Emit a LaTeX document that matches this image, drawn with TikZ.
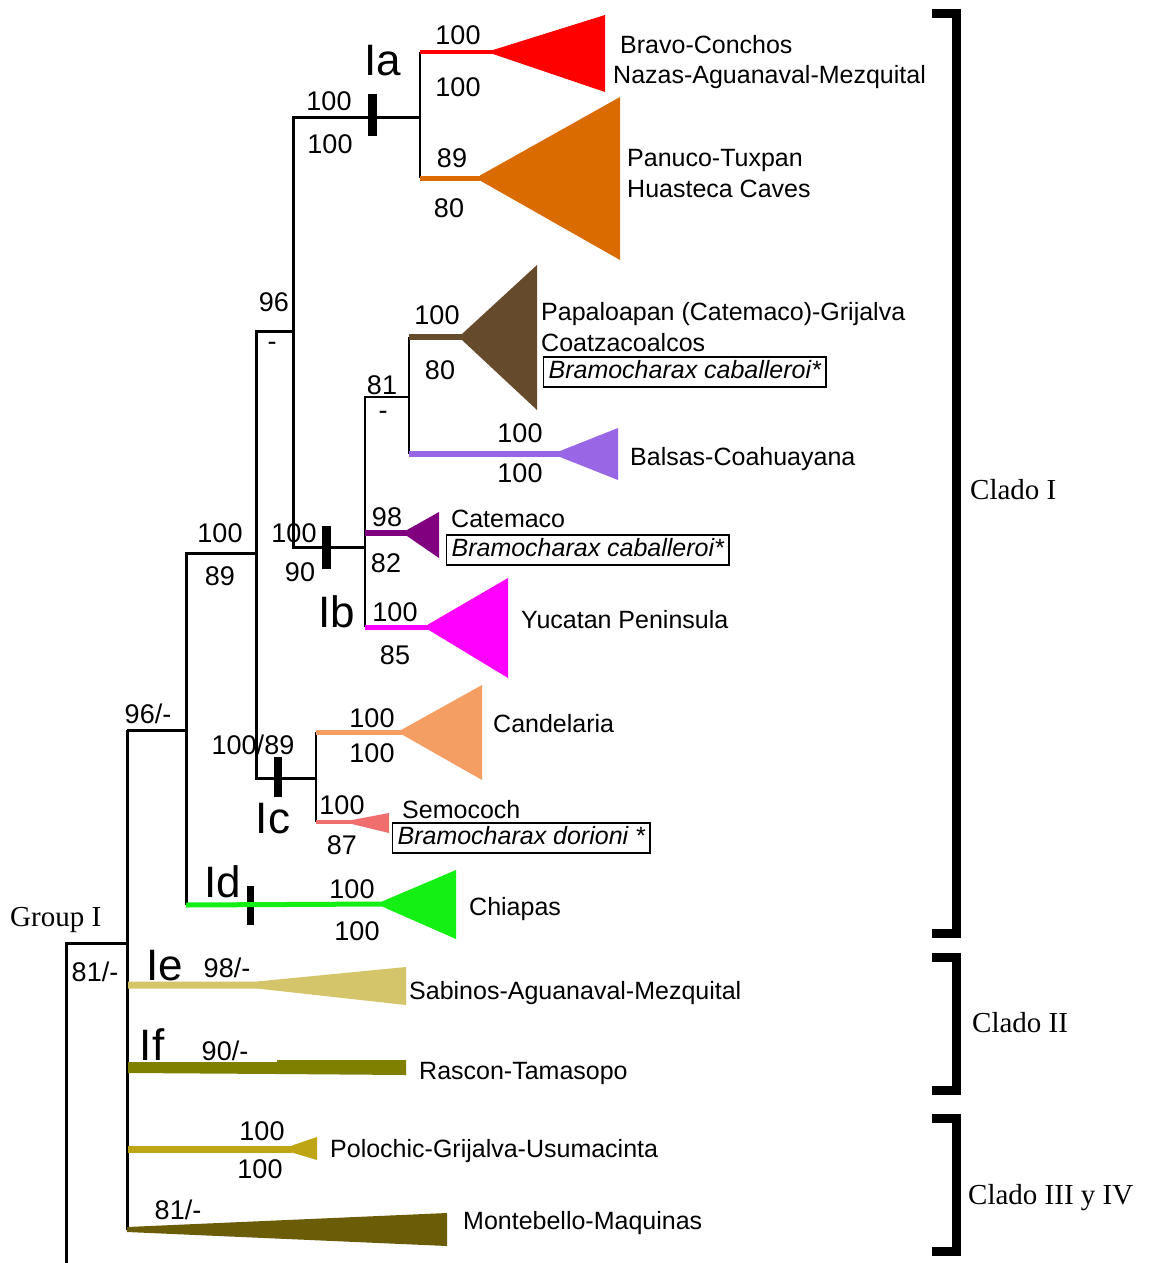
\documentclass[tikz,border=0pt]{standalone}
\usepackage{fontspec}
\newfontfamily\sansf{Liberation Sans}
\newfontfamily\seriff{Liberation Serif}
\definecolor{cRed}{RGB}{255,0,0}
\definecolor{cOrange}{RGB}{217,107,0}
\definecolor{cBrown}{RGB}{101,74,44}
\definecolor{cLav}{RGB}{153,102,230}
\definecolor{cPurp}{RGB}{128,0,128}
\definecolor{cMag}{RGB}{255,0,255}
\definecolor{cSalmon}{RGB}{244,158,100}
\definecolor{cCoral}{RGB}{240,110,110}
\definecolor{cGreen}{RGB}{20,240,20}
\definecolor{cKhaki}{RGB}{212,196,106}
\definecolor{cOlive}{RGB}{128,128,0}
\definecolor{cGold}{RGB}{190,165,20}
\definecolor{cDark}{RGB}{107,93,8}
\begin{document}
\begin{tikzpicture}[x=1pt,y=-1pt,
  br/.style={line width=3pt,line join=miter},
  brt/.style={line width=2.2pt,line join=miter},
  tickmark/.style={line width=9pt},
  num/.style={font=\sansf\fontsize{27}{27}\selectfont,inner sep=0pt,text height=19.3pt,text depth=0pt},
  cl/.style={font=\sansf\fontsize{44}{44}\selectfont,inner sep=0pt,text height=31.5pt,text depth=0pt},
  tname/.style={font=\sansf\fontsize{25}{25}\selectfont,inner sep=0pt,anchor=west,text height=18pt,text depth=0pt},
  bx/.style={draw,line width=1.2pt,inner xsep=5pt,inner ysep=3.5pt,anchor=west,text height=18pt,text depth=5pt,font=\sansf\itshape\fontsize{25}{25}\selectfont},
  ser/.style={font=\seriff\fontsize{29}{29}\selectfont,inner sep=0pt,anchor=west,text height=19pt,text depth=0pt},
  bracket/.style={line width=9pt,line join=miter}
]
\useasboundingbox (0,0) rectangle (1150,1263);
\fill[white] (0,0) rectangle (1150,1263);

% ---------- internal coordinates ----------
\coordinate (R0) at (66,1263);
\coordinate (R1) at (66,943);
\coordinate (M) at (127,943);
\coordinate (Mtop) at (127,730);
\coordinate (Mbot) at (127,1230);
\coordinate (A0) at (186,730);
\coordinate (A1) at (186,553);
\coordinate (A2) at (186,905);
\coordinate (B) at (256,553);
\coordinate (B1) at (256,331);
\coordinate (B2) at (256,778);
\coordinate (C) at (293,331);
\coordinate (C1) at (293,117);
\coordinate (C2) at (293,547);
\coordinate (D) at (420,117);
\coordinate (D1) at (420,52);
\coordinate (D2) at (420,178);
\coordinate (E) at (365,547);
\coordinate (E1) at (365,397);
\coordinate (E2) at (365,627);
\coordinate (E3) at (365,533);
\coordinate (F) at (409,397);
\coordinate (F1) at (409,337);
\coordinate (F2) at (409,454);
\coordinate (G) at (316,778);
\coordinate (G1) at (316,732);
\coordinate (G2) at (316,822);

% ---------- black tree ----------
\draw[br] (R0) -- (R1) -- (M);
\draw[br] (Mtop) -- (Mbot);
\draw[br] (Mtop) -- (A0);
\draw[br] (A2) -- (A1) -- (B);
\draw[br] (G) -- (B2) -- (B1) -- (C);
\draw[br] (D) -- (C1) -- (C2) -- (E);
\draw[brt] (D1) -- (D2);
\draw[brt] (E2) -- (E1) -- (F);
\draw[brt] (F1) -- (F2);
\draw[brt] (G1) -- (G2);

% ticks
\coordinate (t1a) at (372,94);  \coordinate (t1b) at (372,136);
\coordinate (t2a) at (326,526); \coordinate (t2b) at (326,569);
\coordinate (t3a) at (278,757); \coordinate (t3b) at (278,797);
\coordinate (t4a) at (250,886); \coordinate (t4b) at (250,925);
\draw[tickmark] (t1a) -- (t1b);
\draw[tickmark] (t2a) -- (t2b);
\draw[tickmark,line width=8pt] (t3a) -- (t3b);
\draw[tickmark,line width=7pt] (t4a) -- (t4b);

% ---------- collapsed clades ----------
% red
\coordinate (redA) at (493,52);
\draw[cRed,line width=4pt] (D1) -- (redA);
\fill[cRed] (493,50) -- (605,15) -- (605,92) -- (493,54) -- cycle;
% orange
\coordinate (orA) at (480,178);
\draw[cOrange,line width=5pt] (D2) -- (orA);
\fill[cOrange] (480,175.5) -- (620,97) -- (620,260) -- (480,180.5) -- cycle;
% brown
\coordinate (brA) at (462,337);
\draw[cBrown,line width=6pt] (F1) -- (brA);
\fill[cBrown] (462,334) -- (537,265) -- (537,410) -- (462,340) -- cycle;
% lavender
\coordinate (lvA) at (560,454);
\draw[cLav,line width=6pt] (F2) -- (lvA);
\fill[cLav] (560,451) -- (618,428) -- (618,480) -- (560,457) -- cycle;
% purple
\coordinate (puA) at (407,533);
\draw[cPurp,line width=6pt] (E3) -- (puA);
\fill[cPurp] (407,530) -- (439,512) -- (439,558) -- (407,536) -- cycle;
% magenta
\coordinate (mgA) at (428,627);
\draw[cMag,line width=5pt] (E2) -- (mgA);
\fill[cMag] (428,624.5) -- (508,578) -- (508,678) -- (428,629.5) -- cycle;
% salmon
\coordinate (saA) at (402,732);
\draw[cSalmon,line width=5pt] (G1) -- (saA);
\fill[cSalmon] (402,729.5) -- (482,685) -- (482,780) -- (402,734.5) -- cycle;
% coral
\coordinate (coA) at (352,822);
\draw[cCoral,line width=4pt] (G2) -- (coA);
\fill[cCoral] (352,820) -- (389,813) -- (389,833) -- (352,824) -- cycle;
% green
\coordinate (grA) at (382,904);
\draw[cGreen,line width=5pt] (A2) -- (grA);
\fill[cGreen] (382,901.5) -- (456,870) -- (456,939) -- (382,906.5) -- cycle;
% khaki (Sabinos)
\fill[cKhaki] (128,981.5) -- (257,981.5) -- (406,967) -- (406,1005) -- (257,988.5) -- (128,988.5) -- cycle;
% olive (Rascon)
\fill[cOlive] (128,1062) -- (277,1062) -- (277,1060) -- (406,1060) -- (406,1075) -- (277,1074) -- (128,1073) -- cycle;
% gold (Polochic)
\coordinate (goS) at (128,1149);
\coordinate (goA) at (292,1149);
\draw[cGold,line width=7pt] (goS) -- (goA);
\fill[cGold] (292,1145.5) -- (317,1137) -- (317,1160) -- (292,1152.5) -- cycle;
% dark olive (Montebello)
\fill[cDark] (127,1227) -- (447,1213) -- (447,1246) -- (127,1232) -- cycle;

% ---------- support values ----------
\node[num] (n1) at (458,35) {100};
\node[num] (n2) at (458,87) {100};
\node[cl]  (la) at (383,60) {Ia};
\node[num] (n3) at (329,101) {100};
\node[num] (n4) at (330,144) {100};
\node[num] (n5) at (452,158) {89};
\node[num] (n6) at (449,208) {80};
\node[num] (n7) at (274,302) {96};
\node[num] (n8) at (272,341) {-};
\node[num] (n9) at (437,315) {100};
\node[num] (n10) at (440,370) {80};
\node[num] (n11) at (382,385) {81};
\node[num] (n12) at (383,410) {-};
\node[num] (n13) at (520,433) {100};
\node[num] (n14) at (520,473) {100};
\node[num] (n15) at (220,533) {100};
\node[num] (n16) at (220,576) {89};
\node[num] (n17) at (294,533) {100};
\node[num] (n18) at (300,572) {90};
\node[num] (n19) at (387,517) {98};
\node[num] (n20) at (386,563) {82};
\node[cl]  (lb) at (337,612) {Ib};
\node[num] (n21) at (395,612) {100};
\node[num] (n22) at (395,655) {85};
\node[num] (n23) at (148,714) {96/-};
\node[num] (n24) at (372,718) {100};
\node[num] (n25) at (372,753) {100};
\node[num] (n26) at (253,745) {100/89};
\node[cl]  (lc) at (273,818) {Ic};
\node[num] (n27) at (342,805) {100};
\node[num] (n28) at (342,845) {87};
\node[cl]  (ld) at (223,882) {Id};
\node[num] (n29) at (352,889) {100};
\node[num] (n30) at (357,931) {100};
\node[num] (n31) at (95,972) {81/-};
\node[cl]  (le) at (165,965) {Ie};
\node[num] (n32) at (227,968) {98/-};
\node[cl]  (lf) at (152,1045) {If};
\node[num] (n33) at (225,1051) {90/-};
\node[num] (n34) at (262,1131) {100};
\node[num] (n35) at (260,1169) {100};
\node[num] (n36) at (178,1210) {81/-};
\node[ser] (grp) at (10,917) {Group I};

% ---------- taxon names ----------
\node[tname] (t1) at (620,44) {Bravo-Conchos};
\node[tname] (t2) at (613,74) {Nazas-Aguanaval-Mezquital};
\node[tname] (t3) at (627,157) {Panuco-Tuxpan};
\node[tname] (t4) at (627,188) {Huasteca Caves};
\node[tname] (t5) at (541,311) {Papaloapan (Catemaco)-Grijalva};
\node[tname] (t6) at (541,342) {Coatzacoalcos};
\node[bx] (b1) at (543,372) {Bramocharax caballeroi*};
\node[tname] (t7) at (630,456) {Balsas-Coahuayana};
\node[tname] (t8) at (451,518) {Catemaco};
\node[bx] (b2) at (446,550) {Bramocharax caballeroi*};
\node[tname] (t9) at (521,619) {Yucatan Peninsula};
\node[tname] (t10) at (493,723) {Candelaria};
\node[tname] (t11) at (402,809) {Semococh};
\node[bx] (b3) at (392,838) {Bramocharax dorioni *};
\node[tname] (t12) at (469,906) {Chiapas};
\node[tname] (t13) at (409,990) {Sabinos-Aguanaval-Mezquital};
\node[tname] (t14) at (419,1070) {Rascon-Tamasopo};
\node[tname] (t15) at (330,1148) {Polochic-Grijalva-Usumacinta};
\node[tname] (t16) at (463,1220) {Montebello-Maquinas};

% ---------- brackets ----------
\coordinate (k1a) at (932,13.5); \coordinate (k1b) at (956,13.5);
\coordinate (k1c) at (956,933);  \coordinate (k1d) at (932,933);
\coordinate (k2a) at (932,957.5); \coordinate (k2b) at (956,957.5);
\coordinate (k2c) at (956,1090.5); \coordinate (k2d) at (932,1090.5);
\coordinate (k3a) at (932,1118.5); \coordinate (k3b) at (956,1118.5);
\coordinate (k3c) at (956,1251.5); \coordinate (k3d) at (932,1251.5);
\draw[bracket] (k1a) -- (k1b) -- (k1c) -- (k1d);
\draw[bracket] (k2a) -- (k2b) -- (k2c) -- (k2d);
\draw[bracket] (k3a) -- (k3b) -- (k3c) -- (k3d);
\node[ser] (c1) at (970,490) {Clado I};
\node[ser] (c2) at (972,1023) {Clado II};
\node[ser] (c3) at (968,1195) {Clado III y IV};
\end{tikzpicture}
\end{document}
